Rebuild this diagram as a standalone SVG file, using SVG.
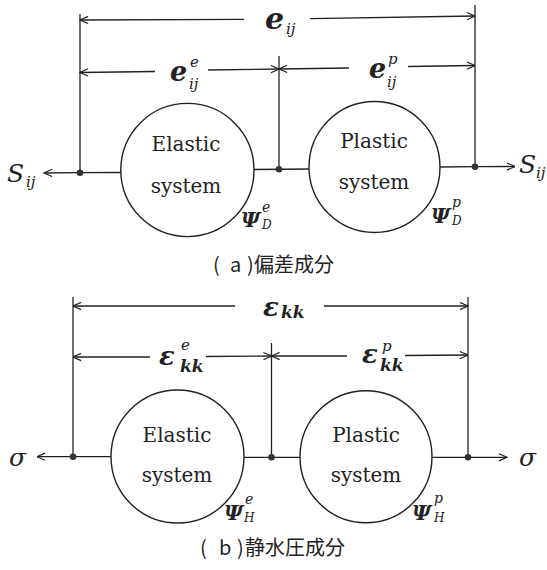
<svg xmlns="http://www.w3.org/2000/svg" width="547" height="570" viewBox="0 0 547 570">
<defs>
<marker id="arr" viewBox="0 0 10 10" refX="10" refY="5" markerWidth="10" markerHeight="9" markerUnits="userSpaceOnUse" orient="auto">
<path d="M1,1 L10,5 L1,9" fill="none" stroke="#222" stroke-width="1.3"/>
</marker>
</defs>
<style>
.ln{stroke:#222;stroke-width:1.3;fill:none}
.ar{stroke:#222;stroke-width:1.3;fill:none;marker-end:url(#arr)}
.cir{stroke:#222;stroke-width:1.4;fill:#fff}
.dot{fill:#333}
.rm{font-family:"DejaVu Serif","Liberation Serif",serif;font-size:20px;fill:#222;text-anchor:middle}
.mi{font-family:"DejaVu Serif","Liberation Serif",serif;font-style:italic;fill:#222}
.mb{font-family:"DejaVu Serif","Liberation Serif",serif;font-style:italic;font-weight:bold;fill:#222}
.cap{font-family:"Noto Sans CJK JP","Noto Sans CJK SC",sans-serif;font-size:20px;fill:#222}
</style>

<g id="connectors">
<!-- panel a -->
<line class="ar" x1="244" y1="19.4" x2="80" y2="20"/>
<line class="ar" x1="310" y1="18.6" x2="475" y2="16"/>
<line class="ar" x1="155" y1="71.5" x2="80" y2="72.5"/>
<line class="ar" x1="208" y1="70" x2="279" y2="69"/>
<line class="ar" x1="349" y1="68" x2="279" y2="69"/>
<line class="ar" x1="408" y1="66.5" x2="475" y2="65.5"/>
<line class="ln" x1="80" y1="14" x2="80" y2="172.7"/>
<line class="ln" x1="279" y1="56" x2="279" y2="169.3"/>
<line class="ln" x1="475" y1="5" x2="475" y2="166.7"/>
<line class="ar" x1="80" y1="172.7" x2="44" y2="173"/>
<line class="ln" x1="80" y1="172.7" x2="121" y2="172.5"/>
<line class="ln" x1="254" y1="169.5" x2="309" y2="169"/>
<line class="ln" x1="440" y1="167" x2="475" y2="166.7"/>
<line class="ar" x1="475" y1="166.7" x2="515" y2="166.5"/>
<!-- panel b -->
<line class="ar" x1="235" y1="306" x2="73" y2="306"/>
<line class="ar" x1="324" y1="306" x2="468" y2="306"/>
<line class="ar" x1="150" y1="357" x2="73" y2="357"/>
<line class="ar" x1="206" y1="356.5" x2="271.5" y2="356"/>
<line class="ar" x1="347" y1="356" x2="271.5" y2="356"/>
<line class="ar" x1="405" y1="355.5" x2="468" y2="355"/>
<line class="ln" x1="73" y1="297" x2="73" y2="456.7"/>
<line class="ln" x1="271.5" y1="343" x2="271.5" y2="457.3"/>
<line class="ln" x1="468" y1="297" x2="468" y2="457.3"/>
<line class="ar" x1="73" y1="456.7" x2="37" y2="456.7"/>
<line class="ln" x1="73" y1="456.7" x2="111" y2="456.7"/>
<line class="ln" x1="244" y1="457.3" x2="300" y2="457.3"/>
<line class="ln" x1="432" y1="457.3" x2="468" y2="457.3"/>
<line class="ar" x1="468" y1="457.3" x2="507" y2="457.3"/>
<circle class="dot" cx="80" cy="172.7" r="3.3"/>
<circle class="dot" cx="279" cy="169.3" r="3.3"/>
<circle class="dot" cx="475" cy="166.7" r="3.3"/>
<circle class="dot" cx="73" cy="456.7" r="3.3"/>
<circle class="dot" cx="271.5" cy="457.3" r="3.3"/>
<circle class="dot" cx="468" cy="457.3" r="3.3"/>
</g>

<g id="elastic-a">
<circle class="cir" cx="187.4" cy="170" r="66.6"/>
<text class="rm" x="186" y="151">Elastic</text>
<text class="rm" x="186" y="193">system</text>
</g>
<g id="plastic-a">
<circle class="cir" cx="374.5" cy="167" r="65.5"/>
<text class="rm" x="374" y="148">Plastic</text>
<text class="rm" x="374" y="189">system</text>
</g>
<g id="elastic-b">
<circle class="cir" cx="177.5" cy="456.5" r="66.5"/>
<text class="rm" x="177" y="442">Elastic</text>
<text class="rm" x="177" y="482">system</text>
</g>
<g id="plastic-b">
<circle class="cir" cx="366" cy="456.7" r="66"/>
<text class="rm" x="366" y="442">Plastic</text>
<text class="rm" x="366" y="482">system</text>
</g>

<g id="labels-a">
<text class="mb" x="265" y="29" font-size="30">e</text>
<text class="mi" x="286" y="34" font-size="15">ij</text>
<text class="mb" x="170" y="81" font-size="27">e</text>
<text class="mi" x="190" y="67" font-size="15">e</text>
<text class="mi" x="189" y="89" font-size="15">ij</text>
<text class="mb" x="369" y="78" font-size="27">e</text>
<text class="mi" x="388" y="64" font-size="15">p</text>
<text class="mi" x="387" y="87" font-size="15">ij</text>
<text class="mi" x="7" y="182" font-size="25">S</text>
<text class="mi" x="26" y="187" font-size="15">ij</text>
<text class="mi" x="519" y="173" font-size="25">S</text>
<text class="mi" x="536" y="178" font-size="15">ij</text>
<text class="mb" x="241" y="227" font-size="21">Ψ</text>
<text class="mi" x="262" y="212" font-size="14">e</text>
<text class="mi" x="262" y="229" font-size="12">D</text>
<text class="mb" x="431" y="223" font-size="21">Ψ</text>
<text class="mi" x="452" y="207" font-size="14">p</text>
<text class="mi" x="452" y="225" font-size="12">D</text>
<text class="cap" y="272"><tspan x="213">(</tspan><tspan x="230">a</tspan><tspan x="247">)</tspan><tspan x="254">偏差成分</tspan></text>
</g>

<g id="labels-b">
<text class="mb" x="263" y="316" font-size="26">ε</text>
<text class="mb" x="281" y="318" font-size="17">kk</text>
<text class="mb" x="159" y="365" font-size="26">ε</text>
<text class="mi" x="181" y="350" font-size="15">e</text>
<text class="mb" x="180" y="372" font-size="17">kk</text>
<text class="mb" x="362" y="363" font-size="26">ε</text>
<text class="mi" x="382" y="351" font-size="15">p</text>
<text class="mb" x="380" y="371" font-size="17">kk</text>
<text class="mi" x="9" y="466" font-size="25">σ</text>
<text class="mi" x="519" y="466" font-size="25">σ</text>
<text class="mb" x="224" y="520" font-size="21">Ψ</text>
<text class="mi" x="245" y="504" font-size="14">e</text>
<text class="mi" x="244" y="522" font-size="12">H</text>
<text class="mb" x="412" y="520" font-size="21">Ψ</text>
<text class="mi" x="434" y="503" font-size="14">p</text>
<text class="mi" x="434" y="522" font-size="12">H</text>
<text class="cap" y="555"><tspan x="200">(</tspan><tspan x="219">b</tspan><tspan x="237">)</tspan><tspan x="245">静水圧成分</tspan></text>
</g>
</svg>
